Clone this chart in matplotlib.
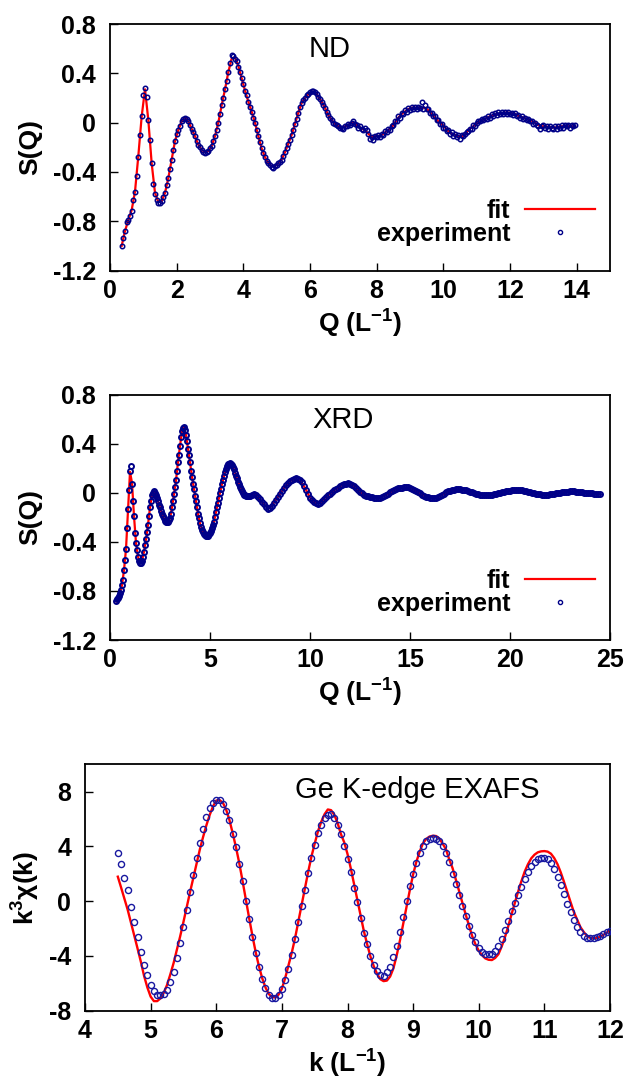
import numpy as np
import matplotlib
matplotlib.use("Agg")
import matplotlib.pyplot as plt
from matplotlib.ticker import FuncFormatter

plt.rcParams["font.family"] = ["Liberation Sans", "DejaVu Sans"]
plt.rcParams["axes.unicode_minus"] = False
plt.rcParams["mathtext.fontset"] = "custom"
plt.rcParams["mathtext.rm"] = "Liberation Sans:bold"
plt.rcParams["mathtext.it"] = "Liberation Sans:bold"
plt.rcParams["mathtext.bf"] = "Liberation Sans:bold"

# ---------------- ND: S(Q) ----------------
nd_fit_q0, nd_fit_dq = 0.35, 0.1
nd_fit = [
    -1.00, -0.88, -0.79, -0.71, -0.56, -0.27, 0.05, 0.27, 0.02, -0.33,
    -0.57, -0.645, -0.64, -0.57, -0.45, -0.30, -0.15, -0.06, 0.01, 0.04,
    0.01, -0.05, -0.11, -0.18, -0.22, -0.24, -0.23, -0.19, -0.11, 0.00,
    0.14, 0.27, 0.41, 0.52, 0.53, 0.46, 0.36, 0.26, 0.17, 0.09,
    0.00, -0.11, -0.21, -0.28, -0.33, -0.355, -0.35, -0.33, -0.30, -0.24,
    -0.17, -0.10, -0.01, 0.08, 0.16, 0.20, 0.23, 0.25, 0.25, 0.21,
    0.17, 0.12, 0.06, 0.02, -0.01, -0.03, -0.04, -0.03, -0.02, 0.00,
    -0.01, -0.03, -0.05, -0.06, -0.09, -0.12, -0.11, -0.11, -0.10, -0.08,
    -0.06, -0.04, 0.00, 0.04, 0.07, 0.09, 0.11, 0.12, 0.12, 0.12,
    0.12, 0.12, 0.10, 0.07, 0.04, 0.01, -0.01, -0.04, -0.07, -0.09,
    -0.10, -0.11, -0.11, -0.10, -0.06, -0.04, -0.02, 0.00, 0.02, 0.03,
    0.045, 0.055, 0.065, 0.07, 0.075, 0.08, 0.08, 0.075, 0.07, 0.055,
    0.045, 0.035, 0.025, 0.015, 0.00, -0.02, -0.03, -0.03, -0.035, -0.04,
    -0.04, -0.035, -0.03, -0.03, -0.03, -0.03, -0.03,
]
nd_exp_q0, nd_exp_dq = 0.35, 0.05
nd_exp = [
    -1.00, -0.94, -0.88, -0.81, -0.79, -0.76, -0.72, -0.63, -0.56, -0.43,
    -0.28, -0.10, 0.05, 0.22, 0.28, 0.21, 0.02, -0.14, -0.33, -0.50,
    -0.58, -0.63, -0.655, -0.65, -0.64, -0.60, -0.57, -0.51, -0.45, -0.38,
    -0.30, -0.22, -0.15, -0.09, -0.06, -0.03, 0.01, 0.03, 0.04, 0.03,
    0.01, -0.02, -0.05, -0.08, -0.11, -0.15, -0.18, -0.20, -0.22, -0.24,
    -0.25, -0.24, -0.23, -0.21, -0.19, -0.15, -0.11, -0.06, 0.00, 0.07,
    0.14, 0.20, 0.27, 0.34, 0.41, 0.48, 0.55, 0.54, 0.52, 0.50,
    0.45, 0.41, 0.36, 0.31, 0.26, 0.22, 0.17, 0.13, 0.09, 0.04,
    0.00, -0.06, -0.11, -0.16, -0.21, -0.25, -0.28, -0.31, -0.33, -0.345,
    -0.36, -0.365, -0.35, -0.34, -0.33, -0.32, -0.30, -0.27, -0.24, -0.21,
    -0.17, -0.14, -0.10, -0.06, -0.01, 0.03, 0.08, 0.13, 0.16, 0.18,
    0.20, 0.22, 0.23, 0.25, 0.26, 0.26, 0.25, 0.23, 0.21, 0.19,
    0.17, 0.14, 0.12, 0.09, 0.06, 0.04, 0.02, 0.00, -0.01, -0.02,
    -0.03, -0.04, -0.04, -0.05, -0.03, -0.03, -0.01, -0.02, 0.00, 0.01,
    -0.01, -0.02, -0.04, -0.03, -0.05, -0.06, -0.04, -0.06, -0.09, -0.13,
    -0.12, -0.14, -0.11, -0.12, -0.10, -0.12, -0.09, -0.10, -0.07, -0.08,
    -0.05, -0.06, -0.03, -0.02, 0.01, 0.01, 0.05, 0.04, 0.08, 0.07,
    0.10, 0.09, 0.12, 0.10, 0.13, 0.11, 0.13, 0.11, 0.13, 0.12,
    0.17, 0.11, 0.14, 0.11, 0.11, 0.08, 0.08, 0.05, 0.05, 0.02,
    0.02, -0.01, -0.01, -0.04, -0.04, -0.07, -0.06, -0.09, -0.08, -0.11,
    -0.09, -0.12, -0.10, -0.13, -0.10, -0.11, -0.09, -0.08, -0.07, -0.05,
    -0.05, -0.02, -0.03, 0.00, 0.01, 0.01, 0.03, 0.02, 0.04, 0.03,
    0.05, 0.04, 0.07, 0.05, 0.08, 0.06, 0.09, 0.07, 0.09, 0.07,
    0.09, 0.07, 0.09, 0.07, 0.08, 0.06, 0.08, 0.05, 0.06, 0.04,
    0.05, 0.03, 0.04, 0.02, 0.03, 0.01, 0.01, -0.01, 0.00, -0.02,
    -0.03, -0.05, -0.03, -0.02, -0.04, -0.03, -0.05, -0.03, -0.04, -0.05,
    -0.03, -0.05, -0.03, -0.04, -0.02, -0.04, -0.02, -0.03, -0.02, -0.04,
    -0.02, -0.03, -0.02,
]

# ---------------- XRD: S(Q) ----------------
xrd_fit_lo_q0, xrd_fit_lo_dq = 0.30, 0.1
xrd_fit_lo = [
    -0.885, -0.855, -0.815, -0.755, -0.63, -0.46, -0.15, 0.17, 0.08, -0.19,
    -0.41, -0.52, -0.575, -0.555, -0.48, -0.38, -0.26, -0.12, -0.02, 0.01,
    -0.02, -0.07, -0.12, -0.17, -0.21, -0.24, -0.235, -0.21, -0.12, -0.01,
    0.10, 0.25, 0.38, 0.50, 0.53, 0.47, 0.36, 0.25, 0.13, 0.03,
    -0.07, -0.17, -0.25, -0.30, -0.335, -0.352, -0.35, -0.325, -0.285, -0.235,
    -0.16, -0.08, 0.00, 0.07, 0.135, 0.195, 0.23, 0.24, 0.225, 0.19,
    0.14, 0.09, 0.05, 0.01, -0.015, -0.03, -0.03,
]
xrd_fit_hi_q0, xrd_fit_hi_dq = 7.0, 0.25
xrd_fit_hi = [
    -0.03, -0.015, -0.055, -0.105, -0.125, -0.07, -0.01, 0.05, 0.095, 0.114,
    0.10, 0.04, -0.04, -0.083, -0.085, -0.042, -0.008, 0.024, 0.052, 0.071,
    0.073, 0.045, 0.008, -0.02, -0.034, -0.041, -0.04, -0.022, 0.002, 0.025,
    0.039, 0.043, 0.04, 0.02, -0.006, -0.029, -0.04, -0.041, -0.027, -0.003,
    0.017, 0.027, 0.027, 0.02, 0.008, -0.005, -0.015, -0.02, -0.019, -0.012,
    -0.002, 0.009, 0.017, 0.021, 0.02, 0.013, 0.003, -0.007, -0.013, -0.016,
    -0.013, -0.007, 0.001, 0.007, 0.01, 0.01, 0.005, 0.0, -0.005, -0.008,
    -0.008,
]
xrd_exp_lo_q0, xrd_exp_lo_dq = 0.30, 0.05
xrd_exp_lo = [
    -0.885, -0.87, -0.855, -0.84, -0.815, -0.79, -0.755, -0.71, -0.63, -0.55,
    -0.46, -0.29, -0.13, 0.02, 0.18, 0.22, 0.07, -0.07, -0.19, -0.33,
    -0.41, -0.47, -0.52, -0.56, -0.575, -0.57, -0.555, -0.52, -0.48, -0.43,
    -0.38, -0.32, -0.26, -0.19, -0.12, -0.07, -0.02, 0.00, 0.01, 0.00,
    -0.02, -0.04, -0.07, -0.10, -0.12, -0.15, -0.17, -0.19, -0.21, -0.23,
    -0.24, -0.24, -0.235, -0.225, -0.21, -0.17, -0.12, -0.07, -0.01, 0.05,
    0.10, 0.18, 0.25, 0.31, 0.38, 0.45, 0.50, 0.53, 0.535, 0.51,
    0.47, 0.42, 0.36, 0.31, 0.25, 0.18, 0.13, 0.07, 0.03, -0.03,
    -0.07, -0.12, -0.17, -0.21, -0.25, -0.28, -0.30, -0.32, -0.335, -0.345,
    -0.352, -0.356, -0.35, -0.34, -0.325, -0.31, -0.285, -0.26, -0.235, -0.20,
    -0.16, -0.12, -0.08, -0.04, 0.00, 0.03, 0.07, 0.10, 0.135, 0.165,
    0.195, 0.215, 0.23, 0.237, 0.24, 0.235, 0.225, 0.21, 0.19, 0.16,
    0.14, 0.12, 0.09, 0.07, 0.05, 0.03, 0.01, -0.005, -0.015, -0.02,
    -0.03, -0.03, -0.03, -0.03,
]
xrd_exp_hi_q0, xrd_exp_hi_dq = 7.0, 0.1
xrd_exp_hi = [
    -0.03, -0.02, -0.01, -0.02, -0.035, -0.055, -0.075, -0.095, -0.115, -0.13,
    -0.125, -0.105, -0.085, -0.06, -0.035, -0.01, 0.015, 0.04, 0.06, 0.08,
    0.095, 0.105, 0.112, 0.116, 0.113, 0.10, 0.085, 0.055, 0.02, -0.01,
    -0.04, -0.062, -0.078, -0.087, -0.09, -0.085, -0.07, -0.05, -0.035, -0.02,
    -0.008, 0.005, 0.018, 0.03, 0.042, 0.052, 0.06, 0.068, 0.074, 0.076,
    0.073, 0.065, 0.052, 0.037, 0.022, 0.008, -0.005, -0.016, -0.024, -0.03,
    -0.034, -0.037, -0.04, -0.041, -0.041, -0.04, -0.035, -0.027, -0.018, -0.008,
    0.002, 0.012, 0.021, 0.029, 0.035, 0.039, 0.042, 0.043, 0.043, 0.043,
    0.04, 0.033, 0.024, 0.015, 0.005, -0.006, -0.016, -0.025, -0.032, -0.037,
    -0.04, -0.042, -0.042, -0.04, -0.035, -0.027, -0.018, -0.008, 0.002, 0.01,
    0.017, 0.022, 0.026, 0.028, 0.028, 0.027, 0.025, 0.022, 0.018, 0.013,
    0.008, 0.003, -0.002, -0.007, -0.011, -0.015, -0.018, -0.019, -0.02, -0.02,
    -0.019, -0.017, -0.014, -0.01, -0.006, -0.002, 0.003, 0.007, 0.011, 0.014,
    0.017, 0.019, 0.02, 0.021, 0.021, 0.02, 0.018, 0.015, 0.011, 0.007,
    0.003, -0.001, -0.005, -0.008, -0.011, -0.013, -0.015, -0.016, -0.016, -0.015,
    -0.013, -0.011, -0.008, -0.005, -0.002, 0.001, 0.004, 0.006, 0.008, 0.009,
    0.01, 0.01, 0.01, 0.009, 0.007, 0.005, 0.003, 0.001, -0.001, -0.003,
    -0.005, -0.006, -0.007, -0.008, -0.008, -0.008,
]

# ---------------- Ge K-edge EXAFS: k^3 chi(k) ----------------
exafs_k0, exafs_dk = 4.5, 0.05
exafs_fit = [
    1.79, 1.0, 0.18, -0.62, -1.55, -2.5, -3.44, -4.40, -5.45, -6.30,
    -6.97, -7.30, -7.30, -7.10, -6.70, -6.12, -5.35, -4.52, -3.55, -2.57,
    -1.52, -0.43, 0.65, 1.70, 2.75, 3.78, 4.70, 5.55, 6.30, 6.92,
    7.35, 7.39, 7.20, 6.70, 5.95, 4.98, 3.95, 2.80, 1.50, 0.15,
    -1.20, -2.50, -3.70, -4.75, -5.62, -6.30, -6.78, -7.00, -7.04, -6.82,
    -6.40, -5.62, -4.70, -3.78, -2.72, -1.50, -0.30, 0.95, 2.12, 3.25,
    4.20, 5.10, 5.80, 6.35, 6.70, 6.65, 6.30, 5.70, 4.90, 4.30,
    3.45, 2.40, 1.25, 0.10, -1.05, -2.20, -3.15, -4.05, -4.75, -5.30,
    -5.70, -5.84, -5.80, -5.50, -4.90, -3.95, -2.85, -1.62, -0.40, 0.82,
    1.95, 2.89, 3.62, 4.23, 4.55, 4.72, 4.78, 4.76, 4.58, 4.20,
    3.80, 3.05, 2.43, 1.60, 0.75, -0.10, -0.96, -1.75, -2.55, -3.15,
    -3.62, -3.95, -4.18, -4.28, -4.30, -4.15, -3.87, -3.30, -2.62, -1.82,
    -0.95, -0.12, 0.70, 1.46, 2.16, 2.70, 3.13, 3.40, 3.57, 3.64,
    3.66, 3.62, 3.47, 3.15, 2.70, 2.10, 1.40, 0.65, -0.08, -0.80,
    -1.35, -1.90, -2.25, -2.55, -2.68, -2.72, -2.68, -2.60, -2.46, -2.30,
    -2.11,
]
exafs_exp = [
    3.55, 2.69, 1.72, 0.80, -0.45, -1.55, -2.64, -3.69, -4.66, -5.40,
    -6.12, -6.58, -6.88, -6.88, -6.80, -6.50, -5.88, -5.15, -4.18, -3.08,
    -1.91, -0.62, 0.70, 1.90, 3.15, 4.28, 5.30, 6.13, 6.78, 7.17,
    7.42, 7.40, 7.12, 6.60, 5.90, 4.92, 3.93, 2.75, 1.45, 0.00,
    -1.32, -2.62, -3.78, -4.78, -5.70, -6.37, -6.83, -7.08, -7.10, -6.87,
    -6.42, -5.78, -4.92, -3.90, -2.76, -1.55, -0.38, 0.82, 2.05, 3.15,
    4.10, 4.95, 5.58, 6.05, 6.30, 6.34, 6.05, 5.57, 4.88, 4.06,
    3.08, 2.11, 0.99, -0.08, -1.25, -2.35, -3.15, -3.98, -4.66, -5.07,
    -5.37, -5.44, -5.19, -4.78, -4.05, -3.25, -2.24, -1.18, 0.02, 1.10,
    2.00, 2.78, 3.50, 4.05, 4.40, 4.56, 4.59, 4.56, 4.40, 4.05,
    3.52, 2.84, 2.00, 1.23, 0.42, -0.37, -1.10, -1.82, -2.47, -2.98,
    -3.40, -3.70, -3.85, -3.88, -3.83, -3.65, -3.27, -2.75, -2.10, -1.46,
    -0.75, -0.10, 0.45, 1.04, 1.60, 2.10, 2.55, 2.85, 3.05, 3.15,
    3.17, 3.05, 2.78, 2.35, 1.80, 1.17, 0.52, -0.17, -0.77, -1.36,
    -1.88, -2.27, -2.54, -2.71, -2.67, -2.67, -2.59, -2.52, -2.42, -2.27,
    -2.18,
]


def grid(q0, dq, vals):
    return q0 + dq * np.arange(len(vals))


def fmt(v, pos):
    v = round(v, 2)
    if v == 0:
        return "0"
    return f"{v:g}"


def style_axes(ax, xlim, ylim, xticks, yticks, xlabel, ylabel, ylab_x):
    ax.set_xlim(*xlim)
    ax.set_ylim(*ylim)
    ax.set_xticks(xticks)
    ax.set_yticks(yticks)
    ax.xaxis.set_major_formatter(FuncFormatter(fmt))
    ax.yaxis.set_major_formatter(FuncFormatter(fmt))
    ax.tick_params(direction="in", length=5.5, width=1.0, labelsize=18,
                   top=False, right=False)
    ax.tick_params(axis="x", pad=6)
    ax.tick_params(axis="y", pad=10)
    for lab in ax.get_xticklabels() + ax.get_yticklabels():
        lab.set_fontweight("bold")
    for s in ax.spines.values():
        s.set_linewidth(1.3)
    ax.set_xlabel(xlabel, fontsize=19, fontweight="bold")
    ax.set_ylabel(ylabel, fontsize=19, fontweight="bold")
    ax.xaxis.set_label_coords(0.5, -0.15)
    ax.yaxis.set_label_coords(ylab_x, 0.5)


fig = plt.figure(figsize=(6.33, 10.82), dpi=100)
W, H = 633.0, 1082.0

red = "#ff0000"
navy = "#000088"

# ND panel
ax1 = fig.add_axes([110 / W, (H - 270.5) / H, 500 / W, 246.5 / H])
ax1.plot(grid(nd_fit_q0, nd_fit_dq, nd_fit), nd_fit, color=red, lw=1.6,
         label="fit", zorder=2)
ax1.plot(grid(nd_exp_q0, nd_exp_dq, nd_exp), nd_exp, ls="none", marker="o",
         ms=3.2, mew=1.1, mfc="none", mec=navy, label="experiment", zorder=3)
style_axes(ax1, (0, 15), (-1.2, 0.8), range(0, 15, 2),
           [-1.2, -0.8, -0.4, 0, 0.4, 0.8], r"Q (L$^{-1}$)", "S(Q)", -0.135)
ax1.text(0.44, 0.90, "ND", transform=ax1.transAxes, ha="center",
         va="center", fontsize=21)

# XRD panel
ax2 = fig.add_axes([110 / W, (H - 640) / H, 500 / W, 245.5 / H])
xrd_q_fit = np.concatenate([grid(xrd_fit_lo_q0, xrd_fit_lo_dq, xrd_fit_lo),
                            grid(xrd_fit_hi_q0, xrd_fit_hi_dq, xrd_fit_hi)])
xrd_q_exp = np.concatenate([grid(xrd_exp_lo_q0, xrd_exp_lo_dq, xrd_exp_lo),
                            grid(xrd_exp_hi_q0, xrd_exp_hi_dq, xrd_exp_hi)])
ax2.plot(xrd_q_fit, xrd_fit_lo + xrd_fit_hi, color=red, lw=1.6,
         label="fit", zorder=2)
ax2.plot(xrd_q_exp, xrd_exp_lo + xrd_exp_hi, ls="none", marker="o",
         ms=3.6, mew=1.4, mfc="none", mec=navy, label="experiment", zorder=3)
style_axes(ax2, (0, 25), (-1.2, 0.8), range(0, 26, 5),
           [-1.2, -0.8, -0.4, 0, 0.4, 0.8], r"Q (L$^{-1}$)", "S(Q)", -0.135)
ax2.text(0.466, 0.895, "XRD", transform=ax2.transAxes, ha="center",
         va="center", fontsize=21)

for ax in (ax1, ax2):
    leg = ax.legend(loc="center right", bbox_to_anchor=(0.97, 0.195),
                    frameon=False, markerfirst=False, numpoints=1,
                    prop={"weight": "bold", "size": 18}, handlelength=2.8,
                    handletextpad=0.6, labelspacing=-0.05, borderpad=0,
                    borderaxespad=0)
    leg.legend_handles[1].set_markersize(3.0)
    leg.legend_handles[1].set_markeredgewidth(1.0)

# EXAFS panel
ax3 = fig.add_axes([85 / W, (H - 1010.7) / H, 525 / W, 246.4 / H])
ek = grid(exafs_k0, exafs_dk, exafs_exp)
ax3.plot(grid(exafs_k0, exafs_dk, exafs_fit), exafs_fit, color=red, lw=1.7,
         zorder=2)
ax3.plot(ek, exafs_exp, ls="none", marker="o", ms=4.4, mew=1.0,
         mfc="none", mec="#1818a0", zorder=3)
style_axes(ax3, (4, 12), (-8, 10), range(4, 13),
           [-8, -4, 0, 4, 8], r"k (L$^{-1}$)", r"k$^{3}$$\chi$(k)", -0.082)
ax3.text(0.633, 0.896, "Ge K-edge EXAFS", transform=ax3.transAxes,
         ha="center", va="center", fontsize=21)

fig.savefig("out.png", dpi=100)
